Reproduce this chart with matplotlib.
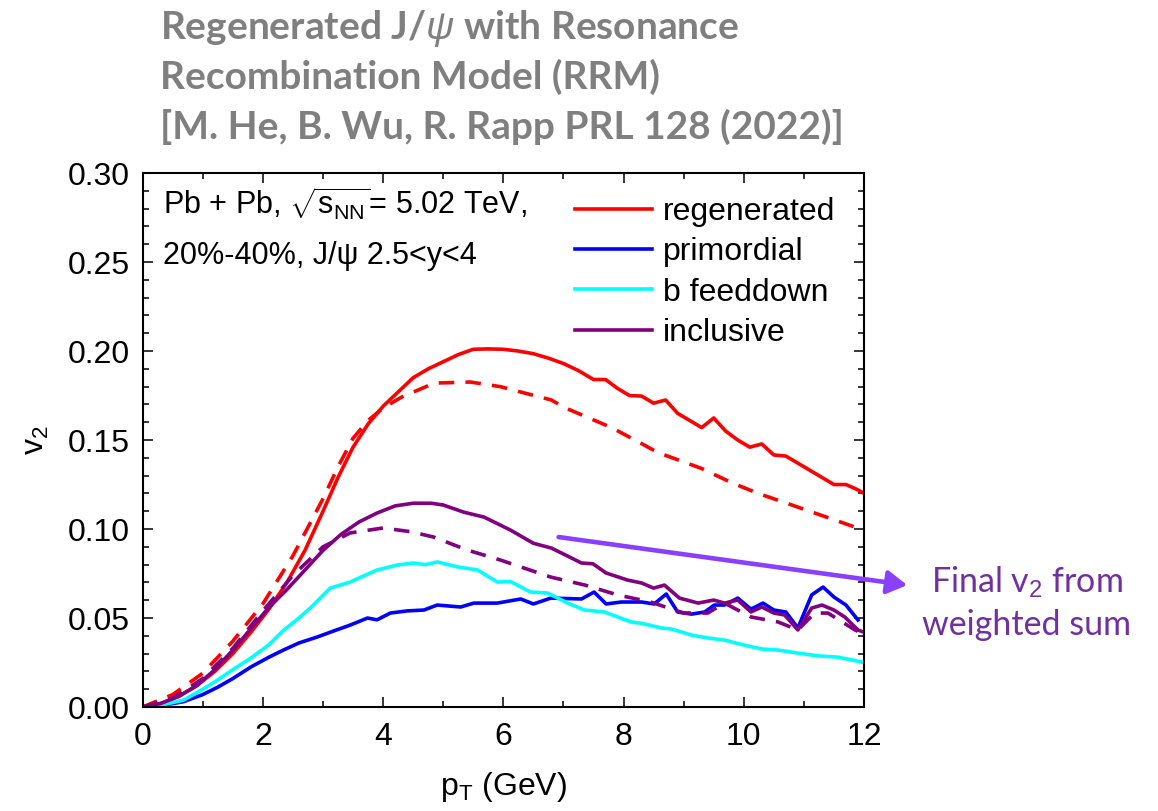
"""
Elliptic flow v2 of J/psi vs pT from the resonance recombination model.
"""

import matplotlib.pyplot as plt
from matplotlib.ticker import MultipleLocator

plt.rcParams["font.family"] = ["Liberation Sans", "DejaVu Sans"]
plt.rcParams["mathtext.fontset"] = "custom"
plt.rcParams["mathtext.rm"] = "Liberation Sans"
plt.rcParams["mathtext.it"] = "Liberation Sans:italic"

# regenerated, solid and dashed
regen_pt = [0, 0.3, 0.6, 0.9, 1.2, 1.5, 1.8, 2.1, 2.4, 2.7, 3.0, 3.25, 3.5, 3.75,
            4.0, 4.25, 4.5, 4.75, 5.0, 5.25, 5.5, 5.75, 6.0, 6.25, 6.5, 6.75, 7.0,
            7.25, 7.5, 7.7, 7.9, 8.1, 8.3, 8.5, 8.7, 8.9, 9.1, 9.3, 9.5, 9.7, 9.9,
            10.1, 10.3, 10.5, 10.7, 10.9, 11.1, 11.3, 11.5, 11.7, 11.9, 12.0]
regen_v2 = [0.000, 0.002, 0.006, 0.012, 0.020, 0.030, 0.042, 0.055, 0.070, 0.088,
            0.110, 0.129, 0.146, 0.159, 0.169, 0.177, 0.185, 0.190, 0.194, 0.198,
            0.201, 0.2012, 0.201, 0.200, 0.1985, 0.196, 0.193, 0.189, 0.184, 0.184,
            0.179, 0.175, 0.1747, 0.1707, 0.1725, 0.165, 0.161, 0.157, 0.1624, 0.155,
            0.150, 0.146, 0.1478, 0.1416, 0.141, 0.137, 0.133, 0.129, 0.125, 0.125,
            0.122, 0.120]

regen_d_pt = [0, 0.5, 1.0, 1.5, 2.0, 2.5, 3.0, 3.25, 3.5, 3.75, 4.0, 4.3, 4.85,
              5.45, 5.95, 6.4, 6.8, 7.0, 7.8, 8.3, 8.57, 9.3, 9.8, 10.24, 10.8,
              11.35, 11.9, 12.0]
regen_d_v2 = [0.000, 0.007, 0.019, 0.037, 0.058, 0.085, 0.117, 0.135, 0.151,
              0.161, 0.168, 0.174, 0.182, 0.1826, 0.180, 0.176, 0.1725, 0.1685,
              0.157, 0.148, 0.143, 0.134, 0.126, 0.120, 0.1135, 0.107, 0.1005,
              0.099]

# primordial
prim_pt = [0, 0.3, 0.68, 1.0, 1.24, 1.5, 1.8, 2.1, 2.34, 2.6, 2.9, 3.2, 3.45,
           3.74, 3.9, 4.12, 4.4, 4.68, 4.9, 5.29, 5.51, 5.9, 6.29, 6.5, 6.79,
           7.3, 7.51, 7.71, 7.96, 8.3, 8.51, 8.71, 8.9, 9.13, 9.35, 9.51, 9.68,
           9.9, 10.12, 10.32, 10.5, 10.7, 10.9, 11.13, 11.32, 11.5, 11.7, 11.9]
prim_v2 = [0.000, 0.0008, 0.003, 0.007, 0.011, 0.016, 0.0225, 0.028, 0.032,
           0.036, 0.0393, 0.043, 0.046, 0.050, 0.049, 0.0528, 0.054, 0.0545,
           0.0573, 0.0562, 0.0584, 0.0584, 0.0607, 0.0579, 0.0612, 0.0607,
           0.0646, 0.0579, 0.059, 0.059, 0.0579, 0.0635, 0.0534, 0.0522, 0.0534,
           0.0573, 0.0573, 0.0612, 0.055, 0.0584, 0.0545, 0.0534, 0.0444, 0.063,
           0.0674, 0.0618, 0.0573, 0.0489]

# b feeddown
bfd_pt = [0, 0.3, 0.68, 1.0, 1.24, 1.5, 1.8, 2.1, 2.34, 2.6, 2.8, 3.12, 3.45,
          3.7, 3.9, 4.24, 4.5, 4.7, 4.9, 5.24, 5.57, 5.9, 6.12, 6.45, 6.74, 7.07,
          7.35, 7.68, 8.12, 8.3, 8.63, 8.8, 9.13, 9.4, 9.68, 10.0, 10.3, 10.57,
          10.9, 11.24, 11.57, 11.96]
bfd_v2 = [0.000, 0.001, 0.0039, 0.010, 0.015, 0.021, 0.0275, 0.035, 0.043, 0.050,
          0.056, 0.0668, 0.0702, 0.074, 0.077, 0.0798, 0.0809, 0.080, 0.0815,
          0.0787, 0.077, 0.0702, 0.0705, 0.0646, 0.064, 0.0584, 0.0545, 0.0534,
          0.0478, 0.047, 0.0444, 0.0438, 0.0404, 0.0388, 0.0376, 0.0348, 0.0326,
          0.032, 0.0303, 0.0287, 0.028, 0.0253]

# inclusive, solid and dashed
incl_pt = [0, 0.3, 0.6, 0.9, 1.2, 1.5, 1.8, 2.1, 2.4, 2.7, 3.0, 3.3, 3.6, 3.9,
           4.2, 4.5, 4.8, 5.0, 5.34, 5.68, 6.12, 6.5, 6.8, 7.07, 7.3, 7.49, 7.71,
           8.07, 8.3, 8.5, 8.68, 8.93, 9.24, 9.5, 9.68, 9.9, 10.12, 10.3, 10.5,
           10.68, 10.9, 11.13, 11.3, 11.5, 11.68, 11.9, 12.0]
incl_v2 = [0.000, 0.002, 0.006, 0.012, 0.021, 0.032, 0.044, 0.056, 0.066, 0.077,
           0.088, 0.097, 0.104, 0.109, 0.113, 0.1145, 0.1145, 0.1135, 0.1095,
           0.1067, 0.0994, 0.092, 0.0893, 0.0848, 0.0809, 0.0805, 0.0753, 0.0713,
           0.0697, 0.0668, 0.0685, 0.0612, 0.0584, 0.0601, 0.0584, 0.0601, 0.0534,
           0.0562, 0.0528, 0.0517, 0.0433, 0.0556, 0.0573, 0.0545, 0.0506, 0.0433,
           0.042]

incl_d_pt = [0, 0.5, 1.0, 1.5, 2.0, 2.5, 3.0, 3.45, 4.0, 4.46, 4.84, 5.4, 5.95,
             6.79, 7.36, 7.9, 8.45, 9.0, 9.4, 9.68, 10.12, 10.57, 10.9, 11.18,
             11.4, 11.85, 12.0]
incl_d_v2 = [0.000, 0.005, 0.016, 0.033, 0.054, 0.074, 0.090, 0.0978, 0.1006,
             0.0985, 0.0955, 0.0882, 0.0826, 0.073, 0.0685, 0.063, 0.059, 0.0528,
             0.0528, 0.0584, 0.0506, 0.0478, 0.0433, 0.0528, 0.0528, 0.0433,
             0.041]

title_lines = [
    "Regenerated J/$\\psi$ with Resonance",
    "Recombination Model (RRM)",
    "[M. He, B. Wu, R. Rapp PRL 128 (2022)]",
]

fig = plt.figure(figsize=(11.58, 8.11), dpi=100)
ax = fig.add_axes([0.1232, 0.1282, 0.6229, 0.6584])

lw = 2.6
dash = (4.3, 3.1)
ax.plot(regen_pt, regen_v2, color="#ff0000", lw=lw, label="regenerated")
ax.plot(prim_pt, prim_v2, color="#0000ff", lw=lw, label="primordial")
ax.plot(bfd_pt, bfd_v2, color="#00ffff", lw=lw, label="b feeddown")
ax.plot(incl_pt, incl_v2, color="#800080", lw=lw, label="inclusive")
ax.plot(regen_d_pt, regen_d_v2, color="#ff0000", lw=lw, dashes=dash)
ax.plot(incl_d_pt, incl_d_v2, color="#800080", lw=lw, dashes=dash)

ax.set_xlim(0, 12)
ax.set_ylim(0, 0.30)
ax.xaxis.set_major_locator(MultipleLocator(2))
ax.xaxis.set_minor_locator(MultipleLocator(1))
ax.yaxis.set_major_locator(MultipleLocator(0.05))
ax.yaxis.set_minor_locator(MultipleLocator(0.01))
ax.yaxis.set_major_formatter(lambda v, pos: f"{v:.2f}")
ax.tick_params(which="both", direction="in", top=True, right=True,
               width=1.1, labelsize=23)
ax.tick_params(which="major", length=7)
ax.tick_params(axis="x", which="major", pad=11)
ax.tick_params(axis="y", which="major", pad=9)
ax.tick_params(which="minor", length=4)
for spine in ax.spines.values():
    spine.set_linewidth(1.5)

ax.set_xlabel("p$_{\\mathrm{T}}$ (GeV)", fontsize=23, labelpad=13)
ax.set_ylabel("v$_{2}$", fontsize=23, labelpad=12)

ax.text(0.028, 0.9213,
        "Pb + Pb, $\\sqrt{\\mathrm{s}_{\\mathrm{NN}}}$= 5.02 TeV,",
        transform=ax.transAxes, fontsize=22, va="baseline")
ax.text(0.028, 0.8296, "20%-40%, J/ψ 2.5<y<4",
        transform=ax.transAxes, fontsize=22, va="baseline")

ax.legend(loc="upper left", bbox_to_anchor=(0.599, 0.955), frameon=False,
          fontsize=23, handlelength=2.41, handletextpad=0.34,
          labelspacing=0.32, borderpad=0, borderaxespad=0)

for i, line in enumerate(title_lines):
    fig.text(160 / 1158, 1 - (39 + 50 * i) / 811, line, fontsize=28,
             fontweight="bold", color="#7f7f7f", family="Lato", va="baseline")

# arrow pointing at the inclusive curve
ax.annotate("", xy=(12.72, 0.0685), xytext=(6.92, 0.0955),
            annotation_clip=False,
            arrowprops=dict(arrowstyle="-|>,head_length=0.6,head_width=0.35",
                            mutation_scale=20, color="#8a3ffc", lw=3.3,
                            shrinkA=0, shrinkB=0))
fig.text(1027 / 1158, 1 - 593 / 811, "Final v$_2$ from", fontsize=24.5,
         color="#7030a0", family="Lato", ha="center", va="baseline")
fig.text(1027 / 1158, 1 - 635 / 811, "weighted sum", fontsize=24.5,
         color="#7030a0", family="Lato", ha="center", va="baseline")

fig.savefig("out.png", dpi=100)
